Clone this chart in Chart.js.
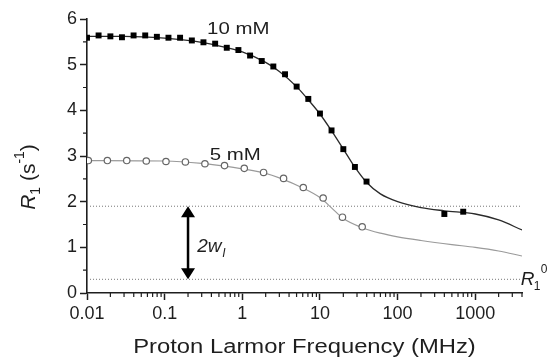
<!DOCTYPE html>
<html>
<head>
<meta charset="utf-8">
<script src="https://cdn.jsdelivr.net/npm/chart.js@4.4.1/dist/chart.umd.min.js"></script>
<style>
html, body { margin: 0; padding: 0; background: #fff; }
</style>
</head>
<body>
<canvas id="myChart" width="547" height="358"></canvas>
<script>
// measured points, 10 mM
const freq10 = [0.01, 0.0141, 0.02, 0.0282, 0.0398, 0.0562, 0.0794, 0.112, 0.158, 0.224, 0.316, 0.447, 0.631, 0.891,
    1.26, 1.78, 2.51, 3.55, 5.01, 7.08, 10, 14.1, 20, 28.2, 39.8, 400, 700];
const r1_10 = [5.59, 5.64, 5.62, 5.60, 5.64, 5.64, 5.61, 5.59, 5.59, 5.53, 5.49, 5.46, 5.37, 5.32,
    5.20, 5.08, 4.96, 4.79, 4.52, 4.25, 3.93, 3.56, 3.15, 2.76, 2.44, 1.73, 1.78];

// measured points, 5 mM
const freq5 = [0.0104, 0.0183, 0.0325, 0.058, 0.104, 0.185, 0.33, 0.59, 1.06, 1.88, 3.4, 6.1, 11, 19.5, 35];
const r1_5 = [2.90, 2.90, 2.90, 2.89, 2.88, 2.87, 2.83, 2.79, 2.73, 2.64, 2.51, 2.31, 2.08, 1.66, 1.45];

// fitted curves
const fitFreq10 = [0.01, 0.03, 0.1, 0.3, 0.6, 1, 2, 3, 5, 7, 10, 14, 20, 28, 40, 60, 100, 200, 400, 1000, 2000, 4000];
const fitR1_10 = [5.62, 5.62, 5.58, 5.49, 5.38, 5.28, 5.05, 4.85, 4.52, 4.24, 3.92, 3.56, 3.15, 2.76, 2.42, 2.17, 2.00, 1.87, 1.80, 1.73, 1.60, 1.38];
const fitFreq5 = [0.01, 0.1, 0.3, 0.6, 1, 2, 3, 6, 10, 14, 20, 35, 60, 100, 200, 500, 1000, 2000, 4000];
const fitR1_5 = [2.90, 2.89, 2.84, 2.78, 2.72, 2.62, 2.52, 2.30, 2.09, 1.87, 1.63, 1.43, 1.31, 1.23, 1.15, 1.06, 1.00, 0.92, 0.81];

// reference levels and the 2w_I arrow
const levelHigh = 1.9;
const levelR10 = 0.3;
const arrowFreq = 0.2;

const xTickValues = [0.01, 0.1, 1, 10, 100, 1000];
const xTickLabels = ['0.01', '0.1', '1', '10', '100', '1000'];
const yTickValues = [0, 1, 2, 3, 4, 5, 6];
const yTickLabels = ['0', '1', '2', '3', '4', '5', '6'];

const xMin = 0.01, xMax = 4000;
const FONT = "'Liberation Sans', Arial, sans-serif";
const INK = '#1e1e1e';

function pts(xs, ys) {
    return xs.map((v, i) => ({ x: v, y: ys[i] }));
}

function drawText(ctx, str, x, y, size, opts) {
    opts = opts || {};
    ctx.save();
    ctx.font = (opts.italic ? 'italic ' : '') + size + 'px ' + FONT;
    ctx.fillStyle = INK;
    ctx.textBaseline = 'alphabetic';
    ctx.textAlign = opts.align || 'left';
    ctx.translate(x, y);
    ctx.scale(opts.sx || 1, 1);
    ctx.fillText(str, 0, 0);
    ctx.restore();
}

const extras = {
    id: 'extras',
    afterDatasetsDraw(chart) {
        const { ctx, chartArea, scales: { x, y } } = chart;
        ctx.save();

        // minor ticks
        ctx.strokeStyle = INK;
        ctx.lineWidth = 1.2;
        ctx.beginPath();
        xTickValues.forEach(d => {
            for (let m = 2; m <= 9; m++) {
                const v = m * d;
                if (v > xMax) break;
                const px = x.getPixelForValue(v);
                ctx.moveTo(px, chartArea.bottom);
                ctx.lineTo(px, chartArea.bottom + 4);
            }
        });
        for (let v = 0.5; v < 6; v += 1) {
            const py = y.getPixelForValue(v);
            ctx.moveTo(chartArea.left, py);
            ctx.lineTo(chartArea.left - 4, py);
        }
        ctx.stroke();

        // arrow heads
        const ax = x.getPixelForValue(arrowFreq);
        const top = y.getPixelForValue(levelHigh);
        const bot = y.getPixelForValue(levelR10);
        ctx.fillStyle = '#000';
        ctx.beginPath();
        ctx.moveTo(ax, top);
        ctx.lineTo(ax - 7, top + 11);
        ctx.lineTo(ax + 7, top + 11);
        ctx.closePath();
        ctx.moveTo(ax, bot);
        ctx.lineTo(ax - 7, bot - 11);
        ctx.lineTo(ax + 7, bot - 11);
        ctx.closePath();
        ctx.fill();

        // labels
        drawText(ctx, '10 mM', x.getPixelForValue(0.887), y.getPixelForValue(5.81) + 6, 17, { align: 'center', sx: 1.2 });
        drawText(ctx, '5 mM', x.getPixelForValue(0.81), y.getPixelForValue(3.04) + 6, 17, { align: 'center', sx: 1.2 });

        const wx = x.getPixelForValue(0.262);
        const wy = y.getPixelForValue(0.9);
        drawText(ctx, '2w', wx, wy, 19, { italic: true });
        drawText(ctx, 'I', wx + 25, wy + 5, 12, { italic: true });

        const rx = x.getPixelForValue(3860);
        const ry = y.getPixelForValue(0.175);
        drawText(ctx, 'R', rx, ry, 19, { italic: true });
        drawText(ctx, '1', rx + 13, ry + 5, 12);
        drawText(ctx, '0', rx + 20, ry - 12, 12);

        // axis titles
        drawText(ctx, 'Proton Larmor Frequency (MHz)', (chartArea.left + chartArea.right) / 2, 353, 20, { align: 'center', sx: 1.19 });

        ctx.save();
        ctx.translate(35, 177);
        ctx.rotate(-Math.PI / 2);
        const parts = [
            { t: 'R', s: 21, it: true, dy: 0 },
            { t: '1', s: 14, dy: 5 },
            { t: ' (s', s: 21, dy: 0 },
            { t: '-1', s: 14, dy: -11 },
            { t: ')', s: 21, dy: 0 }
        ];
        let total = 0;
        parts.forEach(p => {
            ctx.font = (p.it ? 'italic ' : '') + p.s + 'px ' + FONT;
            p.w = ctx.measureText(p.t).width;
            total += p.w;
        });
        let cx = -total / 2;
        ctx.fillStyle = INK;
        ctx.textBaseline = 'alphabetic';
        parts.forEach(p => {
            ctx.font = (p.it ? 'italic ' : '') + p.s + 'px ' + FONT;
            ctx.fillText(p.t, cx, p.dy);
            cx += p.w;
        });
        ctx.restore();

        ctx.restore();
    }
};

Chart.defaults.font.family = FONT;
Chart.defaults.color = INK;

const ctx = document.getElementById('myChart').getContext('2d');

new Chart(ctx, {
    type: 'scatter',
    data: {
        datasets: [
            {
                data: pts(freq10, r1_10),
                pointStyle: 'rect',
                pointRadius: 4.2,
                backgroundColor: '#000',
                borderColor: '#000',
                borderWidth: 0,
                showLine: false,
                order: 0
            },
            {
                data: pts(freq5, r1_5),
                pointStyle: 'circle',
                pointRadius: 3.2,
                backgroundColor: '#fff',
                borderColor: '#666',
                borderWidth: 1.2,
                showLine: false,
                order: 0
            },
            {
                data: pts(fitFreq10, fitR1_10),
                showLine: true,
                pointRadius: 0,
                borderColor: '#2a2a2a',
                borderWidth: 1.3,
                cubicInterpolationMode: 'monotone',
                order: 1
            },
            {
                data: pts(fitFreq5, fitR1_5),
                showLine: true,
                pointRadius: 0,
                borderColor: '#9a9a9a',
                borderWidth: 1.2,
                cubicInterpolationMode: 'monotone',
                order: 1
            },
            {
                data: pts([xMin, xMax], [levelHigh, levelHigh]),
                showLine: true,
                pointRadius: 0,
                borderColor: '#777',
                borderWidth: 1,
                borderDash: [1, 2],
                order: 2
            },
            {
                data: pts([xMin, xMax], [levelR10, levelR10]),
                showLine: true,
                pointRadius: 0,
                borderColor: '#777',
                borderWidth: 1,
                borderDash: [1, 2],
                order: 2
            },
            {
                data: pts([arrowFreq, arrowFreq], [levelR10 + 0.15, levelHigh - 0.15]),
                showLine: true,
                pointRadius: 0,
                borderColor: '#000',
                borderWidth: 2.5,
                order: 2
            }
        ]
    },
    options: {
        responsive: false,
        animation: false,
        layout: {
            padding: { top: 19, right: 25, left: 0, bottom: 0 }
        },
        scales: {
            x: {
                type: 'logarithmic',
                min: xMin,
                max: xMax,
                afterBuildTicks: (s) => {
                    s.ticks = xTickValues.map(v => ({ value: v }));
                },
                afterFit: (s) => { s.height = 65; },
                ticks: {
                    autoSkip: false,
                    maxRotation: 0,
                    padding: 3,
                    font: { size: 18 },
                    callback: (value) => {
                        const i = xTickValues.indexOf(value);
                        return i >= 0 ? xTickLabels[i] : '';
                    }
                },
                grid: {
                    drawOnChartArea: false,
                    drawTicks: true,
                    tickLength: 7,
                    tickColor: INK,
                    tickWidth: 1.5
                },
                border: { display: true, color: INK, width: 1.6 }
            },
            y: {
                min: 0,
                max: 6,
                afterBuildTicks: (s) => {
                    s.ticks = yTickValues.map(v => ({ value: v }));
                },
                afterFit: (s) => { s.width = 87; },
                ticks: {
                    padding: 3,
                    font: { size: 18 },
                    callback: (value) => {
                        const i = yTickValues.indexOf(value);
                        return i >= 0 ? yTickLabels[i] : '';
                    }
                },
                grid: {
                    drawOnChartArea: false,
                    drawTicks: true,
                    tickLength: 7,
                    tickColor: INK,
                    tickWidth: 1.5
                },
                border: { display: true, color: INK, width: 1.6 }
            }
        },
        plugins: {
            legend: { display: false },
            tooltip: { enabled: false }
        }
    },
    plugins: [extras]
});
</script>
</body>
</html>
